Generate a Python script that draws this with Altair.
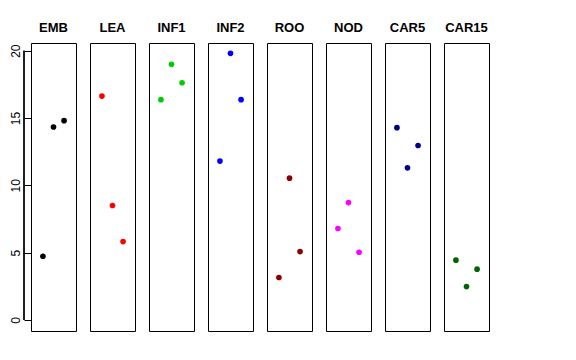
import altair as alt
import pandas as pd

tissues = ["EMB", "LEA", "INF1", "INF2", "ROO", "NOD", "CAR5", "CAR15"]
colors = ["#000000", "#FF0000", "#00CD00", "#0000FF", "#8B0000", "#FF00FF", "#00008B", "#006400"]
reps = [1, 2, 3]
values = {
    "EMB":   [4.73, 14.33, 14.80],
    "LEA":   [16.63, 8.50, 5.82],
    "INF1":  [16.36, 18.99, 17.62],
    "INF2":  [11.80, 19.80, 16.36],
    "ROO":   [3.15, 10.53, 5.08],
    "NOD":   [6.79, 8.72, 5.03],
    "CAR5":  [14.28, 11.30, 12.96],
    "CAR15": [4.44, 2.48, 3.77],
}
y_ticks = [0, 5, 10, 15, 20]

rows = []
for t in tissues:
    for r, v in zip(reps, values[t]):
        rows.append({"tissue": t, "rep": r, "value": v})
df = pd.DataFrame(rows)

FONT = "Liberation Sans"
xscale = alt.Scale(domain=[-0.13, 4.13], nice=False, zero=False)
yscale = alt.Scale(domain=[-0.82, 20.57], nice=False, zero=False)

panels = []
for i, (t, c) in enumerate(zip(tissues, colors)):
    if i == 0:
        yaxis = alt.Axis(values=y_ticks, labelAngle=270, labelFont=FONT, labelFontSize=12,
                         labelColor="#000000", tickColor="#000000", tickSize=7, tickWidth=1,
                         labelPadding=2, domain=False, grid=False, title=None,
                         labelAlign="center", labelBaseline="bottom")
    else:
        yaxis = None
    base = alt.Chart(df).transform_filter(alt.datum.tissue == t)
    pts = base.mark_point(filled=True, color=c, opacity=1, size=32).encode(
        x=alt.X("rep:Q", scale=xscale, axis=None),
        y=alt.Y("value:Q", scale=yscale, axis=yaxis),
    )
    layers = [pts]
    if i == 0:
        rule = base.mark_rule(color="#000000", strokeWidth=1).encode(
            x=alt.value(-7),
            y=alt.YDatum(0),
            y2=alt.Y2Datum(20),
        )
        layers = [rule, pts]
    panel = alt.layer(*layers).properties(
        width=45, height=288,
        title=alt.TitleParams(text=t, fontSize=13, fontWeight="bold", font=FONT,
                              anchor="middle", offset=8, color="#000000"),
    )
    panels.append(panel)

chart = alt.hconcat(*panels, spacing=12).configure_view(
    stroke="#000000", strokeWidth=1
).properties(
    padding={"left": 0, "top": 13, "right": 5, "bottom": 5}
)

chart.save("out.html", embed_options={"renderer": "svg", "actions": False})
